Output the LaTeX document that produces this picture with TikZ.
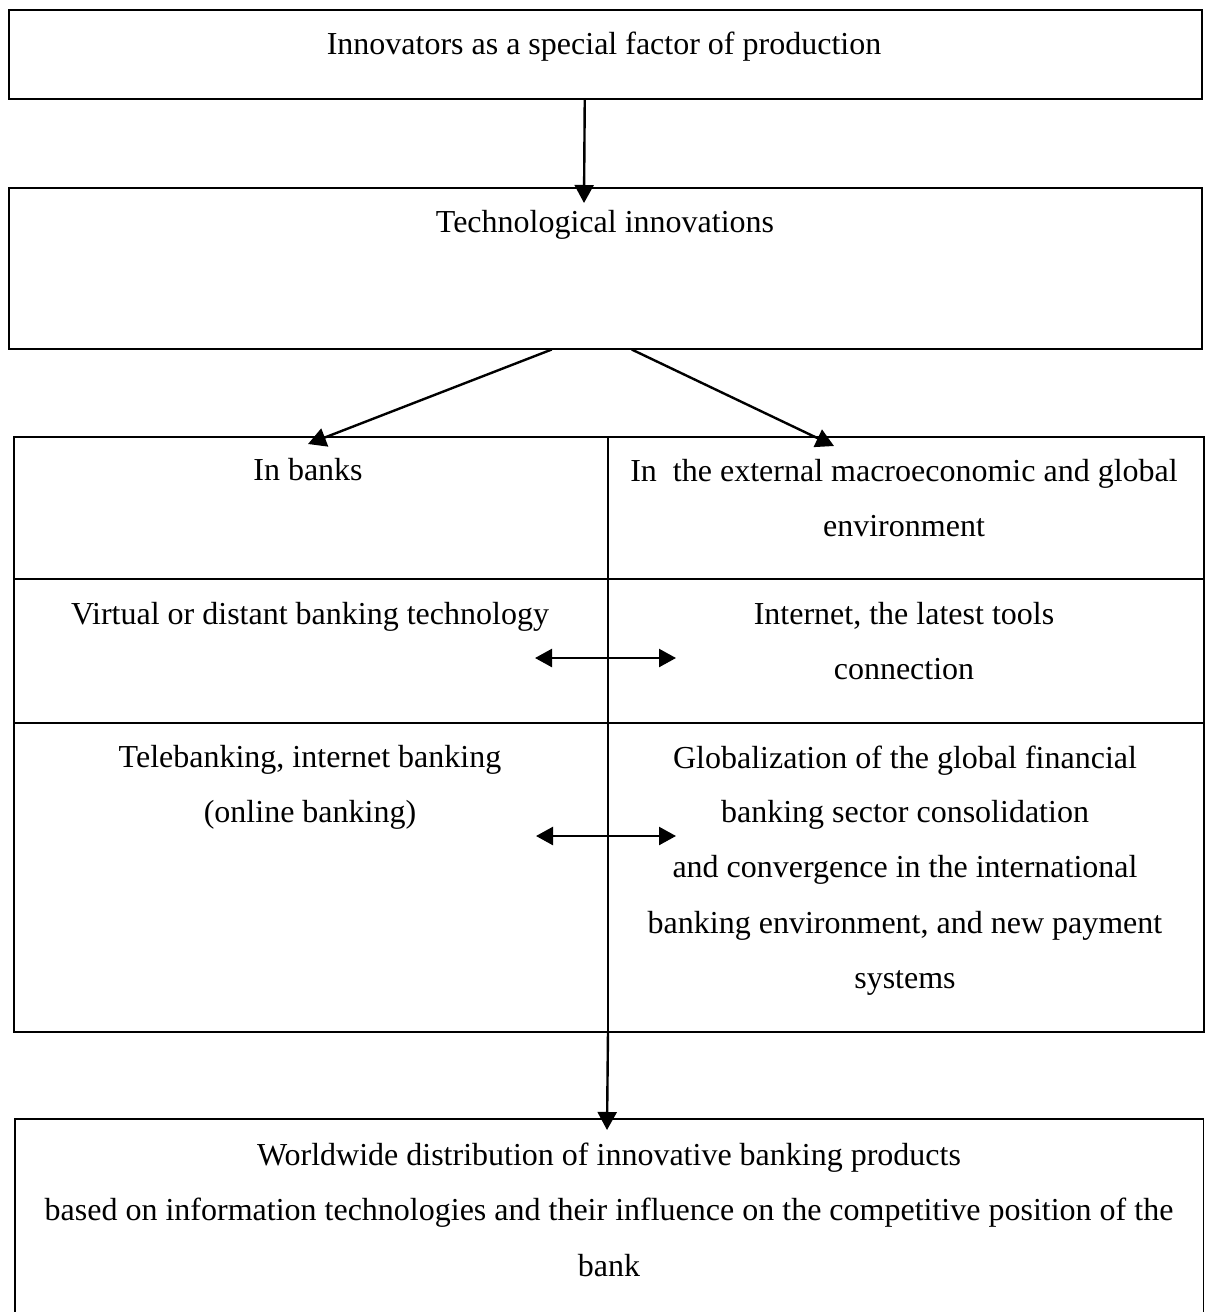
\documentclass[tikz,border=0pt]{standalone}
\usepackage{fontspec}
\setmainfont{Liberation Serif}
\usetikzlibrary{arrows.meta}
\begin{document}
\begin{tikzpicture}[x=1pt,y=-1pt,
  box/.style={draw, line width=1.5pt, inner sep=0pt, anchor=north west},
  txt/.style={anchor=base, inner sep=0pt, font=\fontsize{32}{38}\selectfont},
  conn/.style={line width=2.4pt, -{Triangle[length=18pt,width=19pt]}},
  dconn/.style={line width=2.4pt, {Triangle[length=17pt,width=18pt]}-{Triangle[length=17pt,width=18pt]}},
  rule/.style={line width=1.5pt}]
\useasboundingbox (0,0) rectangle (1207,1312);
% boxes
\node[box, minimum width=1193pt, minimum height=89pt] (b1) at (8,9) {};
\node[box, minimum width=1193pt, minimum height=161pt] (b2) at (8,187) {};
\node[box, minimum width=1190pt, minimum height=595pt] (tbl) at (13,436) {};
\node[inner sep=0pt, minimum width=1188pt, minimum height=200pt, anchor=north west] (b3) at (15,1119) {};
\draw[rule] (b3.south west) -- (b3.north west) -- (b3.north east) -- (b3.south east);
% table rules
\coordinate (divtop) at (608,436);
\coordinate (divbot) at (608,1031);
\coordinate (r1l) at (13,579); \coordinate (r1r) at (1203,579);
\coordinate (r2l) at (13,723); \coordinate (r2r) at (1203,723);
\draw[rule] (divtop) -- (divbot);
\draw[rule] (r1l) -- (r1r);
\draw[rule] (r2l) -- (r2r);
% texts
\node[txt] (t1) at (604,54) {Innovators as a special factor of production};
\node[txt] (t2) at (605,232) {Technological innovations};
\node[txt] (c11) at (308,480) {In banks};
\node[txt] (c12a) at (904,481) {In\ \ the external macroeconomic and global};
\node[txt] (c12b) at (904,536) {environment};
\node[txt] (c21) at (310,624) {Virtual or distant banking technology};
\node[txt] (c22a) at (904,624) {Internet, the latest tools};
\node[txt] (c22b) at (904,679) {connection};
\node[txt] (c31a) at (310,767) {Telebanking, internet banking};
\node[txt] (c31b) at (310,822) {(online banking)};
\node[txt] (c32a) at (905,768) {Globalization of the global financial};
\node[txt] (c32b) at (905,822) {banking sector consolidation};
\node[txt] (c32c) at (905,877) {and convergence in the international};
\node[txt] (c32d) at (905,933) {banking environment, and new payment};
\node[txt] (c32e) at (905,988) {systems};
\node[txt] (t3a) at (609,1165) {Worldwide distribution of innovative banking products};
\node[txt] (t3b) at (609,1220) {based on information technologies and their influence on the competitive position of the};
\node[txt] (t3c) at (609,1276) {bank};
% connectors
\coordinate (a1tip) at (584,203);
\draw[conn] ([xshift=-20.5pt]b1.south) -- (a1tip);
\coordinate (a2tip) at (308,444);
\coordinate (a3tip) at (834,446);
\draw[conn] ([xshift=-53.5pt]b2.south) -- (a2tip);
\draw[conn] ([xshift=26.5pt]b2.south) -- (a3tip);
\coordinate (d1l) at (535,658); \coordinate (d1r) at (676,658);
\coordinate (d2l) at (536,836); \coordinate (d2r) at (676,836);
\draw[dconn] (d1l) -- (d1r);
\draw[dconn] (d2l) -- (d2r);
\coordinate (a4tip) at (607,1130);
\draw[conn] (divbot) -- (a4tip);
\end{tikzpicture}
\end{document}
